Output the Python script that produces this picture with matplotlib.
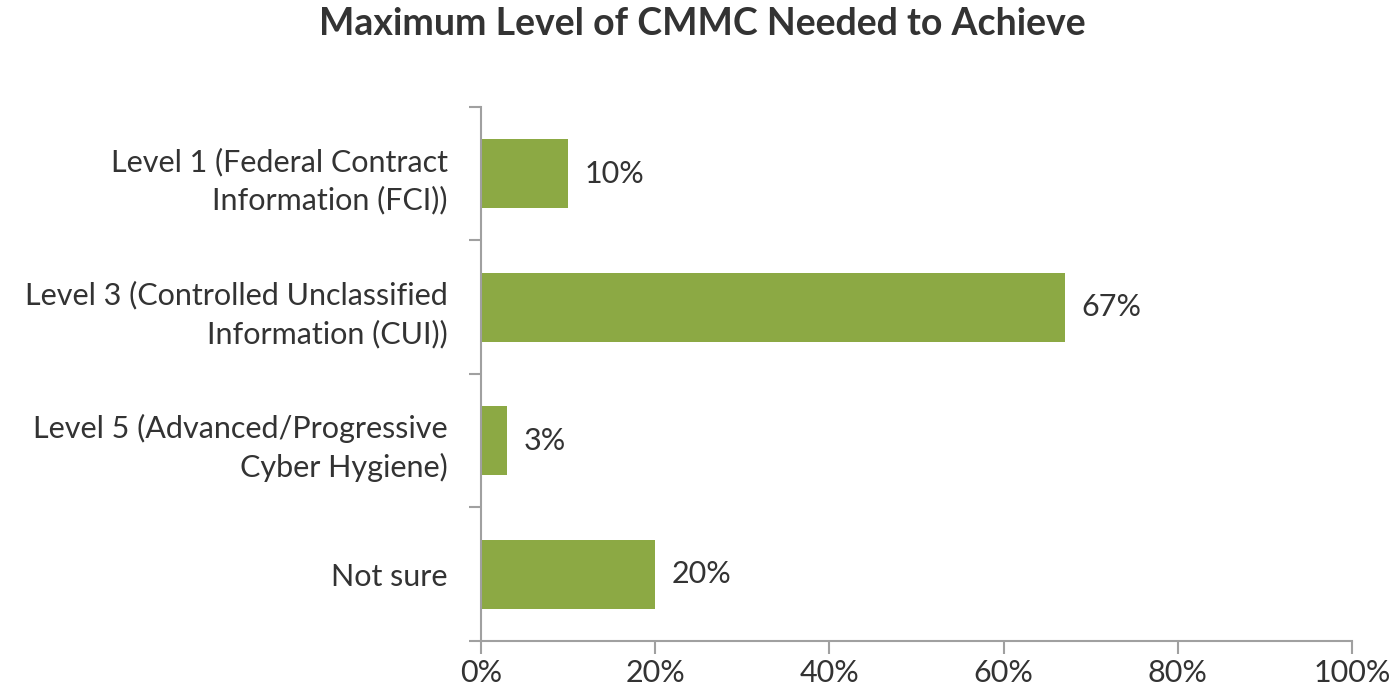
import matplotlib.pyplot as plt
from matplotlib.ticker import FixedLocator

# data
categories = ["Level 1 (Federal Contract\nInformation (FCI))",
              "Level 3 (Controlled Unclassified\nInformation (CUI))",
              "Level 5 (Advanced/Progressive\nCyber Hygiene)",
              "Not sure"]
values = [10, 67, 3, 20]
value_labels = ["10%", "67%", "3%", "20%"]
xticks = [0, 20, 40, 60, 80, 100]
xtick_labels = ["0%", "20%", "40%", "60%", "80%", "100%"]

plt.rcParams['font.family'] = ['Lato', 'DejaVu Sans']

fig = plt.figure(figsize=(13.9, 6.89), dpi=100)
ax = fig.add_axes([0.346, 0.0697, 0.6267, 0.775])

pos = list(range(len(categories)))
ax.barh(pos, values, height=0.52, color='#8CA944')
ax.set_ylim(len(categories) - 0.5, -0.5)
ax.set_xlim(0, 100)

for p, v, lab in zip(pos, values, value_labels):
    ax.text(v + 1.9, p, lab, va='center', ha='left', fontsize=22, color='#333333')

# y: labels at centres, tick marks at the boundaries
ax.set_yticks(pos)
ax.set_yticklabels(categories, fontsize=22, color='#333333', linespacing=1.42)
ax.yaxis.set_minor_locator(FixedLocator([-0.5, 0.5, 1.5, 2.5, 3.5]))
ax.tick_params(axis='y', which='major', length=0, pad=24)
ax.tick_params(axis='y', which='minor', length=9, color='#A0A0A0', width=1.5)

ax.set_xticks(xticks)
ax.set_xticklabels(xtick_labels, fontsize=22, color='#333333')
ax.tick_params(axis='x', length=9, color='#A0A0A0', width=1.5, pad=4)

for side in ['top', 'right']:
    ax.spines[side].set_visible(False)
for side in ['left', 'bottom']:
    ax.spines[side].set_color('#A0A0A0')
    ax.spines[side].set_linewidth(1.5)

fig.suptitle("Maximum Level of CMMC Needed to Achieve", x=0.505, y=0.99,
             fontsize=27, fontweight='bold', color='#333333')

fig.savefig("out.png", dpi=100)
